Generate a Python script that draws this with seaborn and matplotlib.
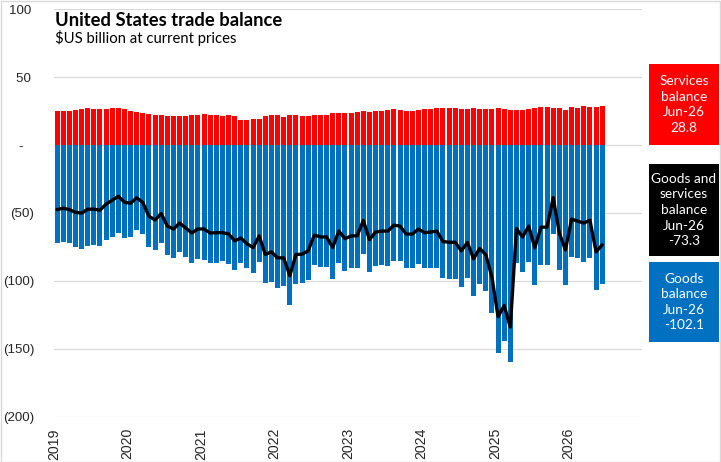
import numpy as np
import pandas as pd
import matplotlib
matplotlib.use("Agg")
import matplotlib.pyplot as plt
import seaborn as sns
from matplotlib.patches import Rectangle

# ---------------- data ----------------
months = pd.date_range("2019-01-01", "2026-06-01", freq="MS").strftime("%b-%y").tolist()

services = [
    24.8, 24.8, 24.8, 25.5, 26.3, 27.0, 26.3, 26.3, 26.3, 27.0, 27.0, 26.3,
    24.8, 24.0, 23.4, 22.6, 21.9, 21.9, 21.2, 21.2, 21.2, 21.2, 21.9, 21.9,
    22.6, 21.9, 21.9, 21.2, 21.9, 21.2, 18.2, 18.2, 19.0, 19.0, 21.2, 21.9,
    21.9, 20.4, 21.9, 21.9, 21.2, 21.2, 21.9, 21.9, 21.9, 23.4, 23.4, 23.4,
    23.4, 24.1, 24.8, 24.1, 24.8, 24.8, 25.5, 26.3, 25.5, 24.8, 24.8, 25.5,
    26.3, 26.3, 27.0, 27.0, 27.0, 27.0, 26.3, 26.3, 27.0, 26.3, 26.3, 26.3,
    27.0, 26.3, 25.5, 25.5, 25.5, 26.3, 27.0, 27.7, 27.7, 27.0, 27.0, 25.5,
    27.7, 27.0, 28.5, 27.7, 27.7, 28.8,
]

goods = [
    -72.3, -71.3, -72.3, -75.0, -76.4, -74.2, -73.5, -74.2, -69.8, -67.6, -64.7, -68.4,
    -67.6, -62.8, -65.7, -75.0, -77.0, -72.3, -80.8, -83.0, -78.6, -82.2, -86.6, -83.6,
    -84.4, -86.6, -86.4, -85.6, -87.3, -91.7, -86.6, -90.8, -94.4, -85.9, -101.7, -100.5,
    -104.9, -103.4, -118.0, -102.4, -101.5, -99.0, -88.1, -89.5, -89.5, -98.8, -86.6, -92.3,
    -90.3, -90.8, -80.3, -93.7, -88.8, -88.1, -88.8, -85.2, -85.2, -90.3, -90.3, -87.3,
    -90.8, -90.3, -90.3, -98.0, -98.5, -98.5, -104.1, -98.0, -110.7, -102.4, -107.0, -123.6,
    -153.3, -144.3, -159.4, -86.9, -93.2, -85.9, -102.7, -88.1, -88.1, -65.7, -91.7, -102.7,
    -82.2, -83.0, -85.9, -83.0, -106.3, -102.1,
]

year_labels = ["2019", "2020", "2021", "2022", "2023", "2024", "2025", "2026"]
y_ticks = [100, 50, 0, -50, -100, -150, -200]
y_tick_labels = ["100 ", "50 ", "-   ", "(50)", "(100)", "(150)", "(200)"]

title = "United States trade balance"
subtitle = "$US billion at current prices"

# ---------------- build frame ----------------
df = pd.DataFrame({"month": months, "services": services, "goods": goods})
df["pos"] = np.arange(len(df))
df["total"] = df["goods"] + df["services"]

# ---------------- styling ----------------
sns.set_theme(style="white")
plt.rcParams["font.family"] = ["Liberation Sans", "DejaVu Sans"]

W, H = 721, 462
fig = plt.figure(figsize=(W / 100, H / 100), dpi=100)
fig.patch.set_facecolor("white")

def fx(px):
    return px / W

def fy(py):
    return 1 - py / H

ax_left, ax_right, ax_top, ax_bottom = 54, 642, 9, 417
ax = fig.add_axes([fx(ax_left), fy(ax_bottom), fx(ax_right - ax_left), (ax_bottom - ax_top) / H])
ax.set_facecolor("white")

RED = "#FF0000"
BLUE = "#0070C0"

sns.barplot(data=df, x="pos", y="services", native_scale=True, color=RED,
            saturation=1, width=0.8, linewidth=0, ax=ax, zorder=2)
sns.barplot(data=df, x="pos", y="goods", native_scale=True, color=BLUE,
            saturation=1, width=0.8, linewidth=0, ax=ax, zorder=2)
sns.lineplot(data=df, x="pos", y="total", color="black", linewidth=2.4, ax=ax,
             zorder=3, legend=False)

ax.set_xlim(-0.5, 95.5)
ax.set_ylim(-200, 100)
ax.set_yticks(y_ticks)
ax.set_yticklabels(y_tick_labels)
ax.set_xticks([12 * k - 0.5 for k in range(len(year_labels))])
ax.set_xticklabels(year_labels, rotation=90, va="top", ha="center")
ax.tick_params(axis="x", length=0, pad=8, labelsize=10.2, labelcolor="#262626")
ax.tick_params(axis="y", length=0, pad=14, labelsize=9.6, labelcolor="#262626")
ax.set_xlabel("")
ax.set_ylabel("")
ax.grid(axis="y", color="#D9D9D9", linewidth=0.8, zorder=0)
ax.grid(axis="x", visible=False)
ax.set_axisbelow(True)
for s in ax.spines.values():
    s.set_visible(False)

# ---------------- titles ----------------
fig.text(fx(55), fy(20), title, fontsize=13.2, fontweight="bold",
         family=["Lato", "DejaVu Sans"], ha="left", va="center", color="black")
fig.text(fx(55), fy(37.5), subtitle, fontsize=10.7,
         family=["Lato", "DejaVu Sans"], ha="left", va="center", color="black")

# ---------------- side labels ----------------
last = months[-1]
boxes = [
    (64, 145, RED, f"Services\nbalance\n{last}\n{services[-1]:.1f}"),
    (164, 256, "black", f"Goods and\nservices\nbalance\n{last}\n{df['total'].iloc[-1]:.1f}"),
    (262, 342, BLUE, f"Goods\nbalance\n{last}\n{goods[-1]:.1f}"),
]
bx0, bx1 = 649, 719
for y0, y1, col, txt in boxes:
    fig.add_artist(Rectangle((fx(bx0), fy(y1)), fx(bx1 - bx0), (y1 - y0) / H,
                             transform=fig.transFigure, facecolor=col,
                             edgecolor="none", zorder=1))
    fig.text(fx((bx0 + bx1) / 2), fy((y0 + y1) / 2), txt, color="white",
             fontsize=9.8, family=["Lato", "DejaVu Sans"], ha="center",
             va="center", linespacing=1.36, zorder=2)

# figure border
fig.add_artist(Rectangle((0.5 / W, 0.5 / H), 1 - 1.5 / W, 1 - 1.5 / H,
                         transform=fig.transFigure, fill=False,
                         edgecolor="#D9D9D9", linewidth=1, zorder=5))

fig.savefig("out.png", dpi=100)
